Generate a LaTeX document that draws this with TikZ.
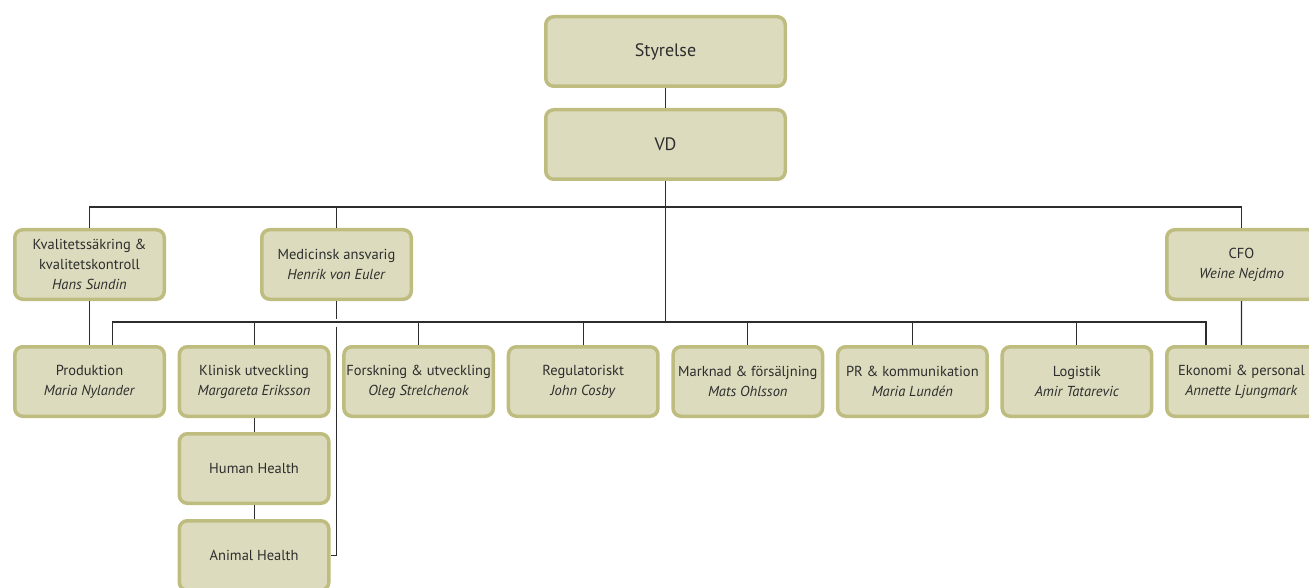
\documentclass[tikz,border=0pt]{standalone}
\usepackage{fontspec}
\setmainfont{PT Sans}
\usepackage{tikz}
\usetikzlibrary{positioning, calc}
\definecolor{boxfill}{RGB}{220,219,190}
\definecolor{boxline}{RGB}{190,188,126}
\definecolor{inkgray}{RGB}{45,45,45}
\tikzset{
    unit/.style={
        rectangle,
        draw=boxline,
        fill=boxfill,
        line width=3.5pt,
        minimum width=149.5pt,
        minimum height=69.5pt,
        inner sep=2pt,
        align=center,
        rounded corners=8pt,
        text=inkgray,
        font=\fontsize{14.5}{20}\selectfont
    },
    topunit/.style={
        unit,
        minimum width=239.5pt,
        font=\fontsize{18}{20}\selectfont
    },
    link/.style={
        draw=inkgray,
        line width=1.1pt
    }
}

\begin{document}
\begin{tikzpicture}[x=1pt, y=-1pt, node distance=11.57pt]
    \useasboundingbox (0,0) rectangle (1309,588);
    \clip (0,0) rectangle (1309,588);

    % top of the chart
    \node[topunit] (styrelse) at (665.5,51.5) {Styrelse};
    \node[topunit, below=20pt of styrelse] (vd) {VD};

    % staff functions
    \node[unit] (kvalitet) at (89.5,264.5) {Kvalitetssäkring \&\\kvalitetskontroll\\\textit{Hans Sundin}};
    \node[unit] (medicinsk) at (336.5,264.5) {Medicinsk ansvarig\\\textit{Henrik von Euler}};
    \node[unit] (cfo) at (1241.5,264.5) {CFO\\\textit{Weine Nejdmo}};

    % departments
    \node[unit] (produktion) at (89.5,381.5) {Produktion\\\textit{Maria Nylander}};
    \node[unit, right=of produktion] (klinisk) {Klinisk utveckling\\\textit{Margareta Eriksson}};
    \node[unit, right=of klinisk] (forskning) {Forskning \& utveckling\\\textit{Oleg Strelchenok}};
    \node[unit, right=of forskning] (regulatoriskt) {Regulatoriskt\\\textit{John Cosby}};
    \node[unit, right=of regulatoriskt] (marknad) {Marknad \& försäljning\\\textit{Mats Ohlsson}};
    \node[unit, right=of marknad] (pr) {PR \& kommunikation\\\textit{Maria Lundén}};
    \node[unit, right=of pr] (logistik) {Logistik\\\textit{Amir Tatarevic}};
    \node[unit, right=of logistik] (ekonomi) {Ekonomi \& personal\\\textit{Annette Ljungmark}};

    \node[unit, below=14pt of klinisk] (human) {Human Health};
    \node[unit, below=14pt of human] (animal) {Animal Health};

    \coordinate (upper) at (0,207);
    \coordinate (lower) at (0,322);
    \coordinate (pdrop) at ([xshift=23pt]produktion.north);
    \coordinate (edrop) at ([xshift=-35.5pt]ekonomi.north);

    \draw[link] (styrelse) -- (vd);
    \draw[link] (vd) -- (vd |- lower);
    \draw[link] (kvalitet) -- (kvalitet |- upper) -| (cfo);
    \draw[link] (medicinsk) -- (medicinsk |- upper);
    \draw[link] (kvalitet) -- (produktion);
    \draw[link] (cfo) -- (ekonomi);

    \draw[link] (pdrop) |- (lower -| edrop) -- (edrop);
    \foreach \dept in {klinisk, forskning, regulatoriskt, marknad, pr, logistik}
        \draw[link] (\dept) -- (\dept |- lower);

    \draw[link] (klinisk) -- (human);
    \draw[link] (human) -- (animal);

    % line jump over the lower bus
    \draw[link] (medicinsk) -- ([yshift=3.5pt]medicinsk |- lower);
    \draw[link] ([yshift=-4.5pt]medicinsk |- lower) |- (animal);
\end{tikzpicture}
\end{document}
